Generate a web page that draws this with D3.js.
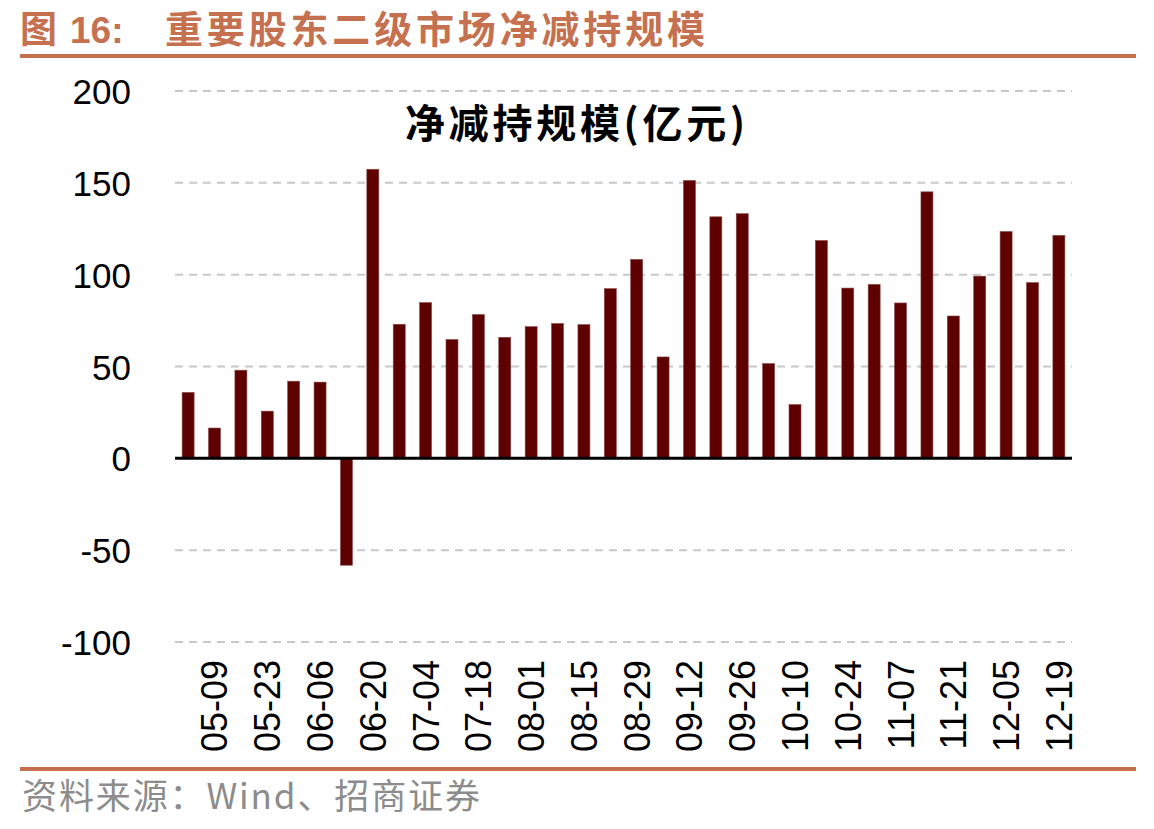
<!DOCTYPE html>
<html>
<head>
<meta charset="utf-8">
<script src="https://cdn.jsdelivr.net/npm/d3@7"></script>
<style>
  body { margin: 0; background: #fff; }
  svg { display: block; }
</style>
</head>
<body>
<svg id="chart" width="1154" height="829"></svg>
<script>
// weekly dates, one bar per week
var dates = ['05-02', '05-09', '05-16', '05-23', '05-30', '06-06', '06-13', '06-20',
    '06-27', '07-04', '07-11', '07-18', '07-25', '08-01', '08-08', '08-15', '08-22',
    '08-29', '09-05', '09-12', '09-19', '09-26', '10-03', '10-10', '10-17', '10-24',
    '10-31', '11-07', '11-14', '11-21', '11-28', '12-05', '12-12', '12-19'];

// net reduction, 亿元
var values = [35.9, 16.5, 48, 25.7, 42, 41.5, -58.2, 157.4,
    73, 84.8, 64.7, 78.3, 65.9, 71.7, 73.4, 72.8, 92.4,
    108.3, 55.2, 151.3, 131.5, 133.2, 51.6, 29.3, 118.6, 92.7,
    94.7, 84.6, 145.1, 77.5, 99.2, 123.5, 95.7, 121.4];

var yTicks = [-100, -50, 0, 50, 100, 150, 200];

var svg = d3.select('#chart');
var accent = '#C5714F';

var x = d3.scaleBand()
    .domain(dates)
    .range([175, 1072])
    .paddingInner(0.545)
    .paddingOuter(0.27);

var y = d3.scaleLinear()
    .domain([-100, 200])
    .range([642, 91]);

// header
svg.append('text')
    .attr('x', 20).attr('y', 43)
    .attr('fill', accent)
    .style('font-family', '"Noto Sans CJK SC"')
    .style('font-size', '37px')
    .style('font-weight', 'bold')
    .text('图');
svg.append('text')
    .attr('x', 70).attr('y', 43)
    .attr('fill', accent)
    .style('font-family', 'Arial, "Liberation Sans"')
    .style('font-size', '37px')
    .style('font-weight', 'bold')
    .text('16:');
svg.append('text')
    .attr('x', 165).attr('y', 43)
    .attr('fill', accent)
    .attr('textLength', 540)
    .style('font-family', '"Noto Sans CJK SC"')
    .style('font-size', '38px')
    .style('font-weight', 'bold')
    .text('重要股东二级市场净减持规模');

svg.append('line')
    .attr('x1', 20).attr('x2', 1136)
    .attr('y1', 56).attr('y2', 56)
    .attr('stroke', accent)
    .attr('stroke-width', 4);

// gridlines
svg.append('g')
    .selectAll('line')
    .data(yTicks.filter(function(d) { return d !== 0; }))
    .enter()
    .append('line')
    .attr('x1', 175).attr('x2', 1072)
    .attr('y1', function(d) { return y(d); })
    .attr('y2', function(d) { return y(d); })
    .attr('stroke', '#c8c8c8')
    .attr('stroke-width', 2)
    .attr('stroke-dasharray', '8,6');

// y axis labels (plain hyphen for negatives)
var yAxis = d3.axisLeft(y)
    .tickValues(yTicks)
    .tickFormat(function(d) { return String(d); })
    .tickSize(0)
    .tickPadding(0);
var gy = svg.append('g')
    .attr('transform', 'translate(131,0)')
    .call(yAxis);
gy.select('.domain').remove();
gy.selectAll('text')
    .attr('dy', '0.36em')
    .attr('fill', '#000')
    .style('font-family', 'Arial, "Liberation Sans"')
    .style('font-size', '35px');

// chart title
svg.append('text')
    .attr('x', 575).attr('y', 138)
    .attr('text-anchor', 'middle')
    .attr('textLength', 340)
    .style('font-family', '"Noto Sans CJK SC"')
    .style('font-size', '40px')
    .style('font-weight', 'bold')
    .text('净减持规模(亿元)');

// bars
svg.append('g')
    .selectAll('rect')
    .data(values)
    .enter()
    .append('rect')
    .attr('x', function(d, i) { return x(dates[i]); })
    .attr('width', x.bandwidth())
    .attr('y', function(d) { return y(Math.max(0, d)); })
    .attr('height', function(d) { return Math.abs(y(d) - y(0)); })
    .attr('fill', '#5E0000')
    .attr('stroke', '#8a4a4a')
    .attr('stroke-width', 0.6);

// zero line
svg.append('line')
    .attr('x1', 175).attr('x2', 1072)
    .attr('y1', y(0)).attr('y2', y(0))
    .attr('stroke', '#000')
    .attr('stroke-width', 3);

// x labels, every other week
var xAxis = d3.axisBottom(x)
    .tickValues(dates.filter(function(d, i) { return i % 2 === 1; }))
    .tickSize(0);
var gx = svg.append('g')
    .attr('transform', 'translate(0,660)')
    .call(xAxis);
gx.select('.domain').remove();
gx.selectAll('text')
    .attr('transform', 'rotate(-90)')
    .attr('text-anchor', 'end')
    .attr('x', 0).attr('y', 0)
    .attr('dy', '0.36em')
    .attr('fill', '#000')
    .style('font-family', 'Arial, "Liberation Sans"')
    .style('font-size', '36px');

// footer
svg.append('line')
    .attr('x1', 20).attr('x2', 1136)
    .attr('y1', 769).attr('y2', 769)
    .attr('stroke', accent)
    .attr('stroke-width', 4);

svg.append('text')
    .attr('x', 22).attr('y', 809)
    .attr('fill', '#8c8c8c')
    .attr('textLength', 458)
    .style('font-family', '"Noto Sans CJK SC"')
    .style('font-size', '35px')
    .text('资料来源：Wind、招商证券');
</script>
</body>
</html>
